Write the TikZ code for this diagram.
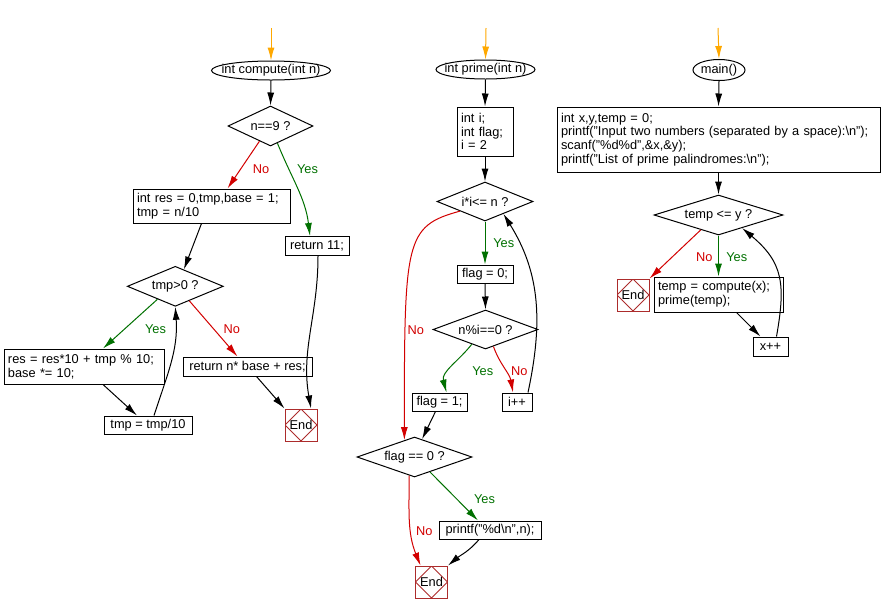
\documentclass[tikz,border=0pt]{standalone}
\usepackage{fontspec}
\setmainfont{Liberation Sans}
\usetikzlibrary{arrows.meta,shapes.geometric}
\definecolor{startorange}{RGB}{255,168,0}
\definecolor{yesgreen}{RGB}{0,112,0}
\definecolor{nored}{RGB}{210,0,0}
\definecolor{endred}{RGB}{172,44,44}
\tikzset{
	flow/.style={line width=1pt, -{Latex[length=13pt,width=7pt]}},
	startflow/.style={flow, color=startorange},
	yesflow/.style={flow, color=yesgreen},
	noflow/.style={flow, color=nored},
	yeslabel/.style={text=yesgreen},
	nolabel/.style={text=nored},
	func/.style={draw, ellipse, inner xsep=-12pt, inner ysep=0pt, line width=1pt},
	box/.style={draw, rectangle, inner sep=2pt, align=left, line width=1pt},
	note/.style={box, inner xsep=4pt, text width=#1},
	test/.style={draw, diamond, aspect=3, inner sep=0pt, line width=1pt},
	stop/.style={draw=endred, rectangle, minimum size=32pt, inner sep=0pt, line width=1pt,
		path picture={\draw[endred, line width=1pt] (path picture bounding box.north) -- (path picture bounding box.east)
			-- (path picture bounding box.south) -- (path picture bounding box.west) -- cycle;}}
}

\begin{document}
\begin{tikzpicture}[x=1pt, y=-1pt, font=\fontsize{12.8pt}{13.8pt}\selectfont]
			%%%%% START %%%%%
			\useasboundingbox (0, 0) rectangle (882, 614);
			
			% compute()
			\coordinate (in1) at (271, 28);
			\node[func, minimum width=119, minimum height=19] (compute) at (271, 70.5) {int compute(int n)};
			\node[test, minimum width=85, minimum height=40] (n9) at (270.5, 126) {n==9 ?};
			\node[note=149, minimum height=34] (res) at (211.5, 206) {int res = 0,tmp,base = 1;\\tmp = n/10};
			\node[box, minimum width=64, minimum height=19] (ret11) at (317, 246) {return 11;};
			\node[test, minimum width=96, minimum height=40] (tmp) at (175.3, 286.3) {tmp>0 ?};
			\node[note=152, minimum height=35] (upd) at (84, 366.5) {res = res*10 + tmp \% 10;\\base *= 10;};
			\node[box, minimum width=129, minimum height=19] (retn) at (247.5, 366.5) {return n* base + res;};
			\node[box, minimum width=88, minimum height=18] (div) at (148, 425) {tmp = tmp/10};
			\node[stop] (end1) at (301, 425) {End};
			
			\draw[startflow] (in1) -- (compute.north);
			\draw[flow] (compute.south) -- (n9.north);
			\draw[noflow] (n9.-126) -- ([xshift=16]res.north);
			\draw[yesflow] (n9.-68) to[out=-68, in=97] ([xshift=-7]ret11.north);
			\draw[flow] ([xshift=-10]res.south) -- (tmp.63);
			\draw[yesflow] (tmp.-144) -- ([xshift=19]upd.north);
			\draw[noflow] (tmp.-46) -- ([xshift=-10]retn.north);
			\draw[flow] ([xshift=19]upd.south) -- ([xshift=-11]div.north);
			\draw[flow] ([xshift=6]div.north) to[out=72, in=-86] (tmp.south);
			\draw[flow] ([xshift=9]retn.south) -- (end1.north west);
			\draw[flow] ([xshift=1]ret11.south) to[out=-90, in=100] ([xshift=10]end1.north);
			
			\node[nolabel] (n9no) at (261, 169.5) {No};
			\node[yeslabel] (n9yes) at (307.5, 169.5) {Yes};
			\node[yeslabel] (tmpyes) at (155.5, 329.5) {Yes};
			\node[nolabel] (tmpno) at (231.7, 329.5) {No};
			
			% prime()
			\coordinate (in2) at (486, 28);
			\node[func, minimum width=99, minimum height=19] (prime) at (485.5, 69.5) {int prime(int n)};
			\node[note=48, minimum height=49] (decl) at (485, 131.5) {int i;\\int flag;\\i = 2};
			\node[test, minimum width=96, minimum height=39] (loop) at (485, 201.5) {i*i<= n ?};
			\node[box, minimum width=56, minimum height=18] (f0) at (485, 274) {flag = 0;};
			\node[test, minimum width=105, minimum height=39] (mod) at (485.5, 329.5) {n\%i==0 ?};
			\node[box, minimum width=55, minimum height=18] (f1) at (439.5, 402) {flag = 1;};
			\node[box, minimum width=30, minimum height=18] (inc) at (517, 402) {i++};
			\node[test, minimum width=115, minimum height=40] (flag) at (414.5, 457) {flag == 0 ?};
			\node[box, minimum width=102, minimum height=18] (pr) at (490, 530) {printf("\%d\textbackslash n",n);};
			\node[stop] (end2) at (431.5, 582) {End};
			
			\draw[startflow] (in2) -- (prime.north);
			\draw[flow] (prime.south) -- (decl.north);
			\draw[flow] (decl.south) -- (loop.north);
			\draw[yesflow] (loop.south) -- (f0.north);
			\draw[flow] (f0.south) -- (mod.north);
			\draw[yesflow] (mod.-133) to[out=-128, in=105] ([xshift=7]f1.north);
			\draw[noflow] (mod.-65) to[out=-70, in=100] ([xshift=-4]inc.north);
			\draw[flow] ([xshift=11]inc.north) to[out=78, in=-58] (loop.-34);
			\draw[noflow] (loop.-159) .. controls +(-55, 15) and +(0, -200) .. (flag.121);
			\draw[flow] ([xshift=-4]f1.south) -- (flag.67);
			\draw[yesflow] (flag.-44) -- ([xshift=-12]pr.north);
			\draw[noflow] (flag.-106) to[out=-90, in=112] ([xshift=-11]end2.north);
			\draw[flow] ([xshift=-11]pr.south) to[out=-130, in=40] (end2.north east);
			
			\node[yeslabel] (loopyes) at (503.8, 243.5) {Yes};
			\node[nolabel] (loopno) at (415.8, 330.5) {No};
			\node[yeslabel] (modyes) at (482.7, 371.3) {Yes};
			\node[nolabel] (modno) at (519.2, 371.3) {No};
			\node[yeslabel] (flagyes) at (484.5, 499.5) {Yes};
			\node[nolabel] (flagno) at (424.2, 531) {No};
			
			% main()
			\coordinate (in3) at (718, 28);
			\node[func, minimum width=52, minimum height=21] (main) at (719, 70) {main()};
			\node[note=315, minimum height=65] (init) at (718.5, 139.5) {int x,y,temp = 0;\\printf("Input two numbers (separated by a space):\textbackslash n");\\scanf("\%d\%d",\&x,\&y);\\printf("List of prime palindromes:\textbackslash n");};
			\node[test, minimum width=129, minimum height=40] (cond) at (718.5, 215) {temp <= y ?};
			\node[note=121, minimum height=35] (body) at (718.5, 294.5) {temp = compute(x);\\prime(temp);};
			\node[stop] (end3) at (633, 295) {End};
			\node[box, minimum width=35, minimum height=19] (xinc) at (770.5, 346.5) {x++};
			
			\draw[startflow] (in3) -- (main.north);
			\draw[flow] (main.south) -- (init.north);
			\draw[flow] (init.south) -- (cond.north);
			\draw[yesflow] (cond.south) -- (body.north);
			\draw[noflow] (cond.-140) -- (end3.north east);
			\draw[flow] ([xshift=18]body.south) -- ([xshift=-10]xinc.north);
			\draw[flow] ([xshift=6]xinc.north) to[out=80, in=-40, looseness=1.2] (cond.-29);
			
			\node[nolabel] (condno) at (704.2, 257.5) {No};
			\node[yeslabel] (condyes) at (736.7, 257.5) {Yes};
			%%%%% END %%%%%
\end{tikzpicture}
\end{document}
